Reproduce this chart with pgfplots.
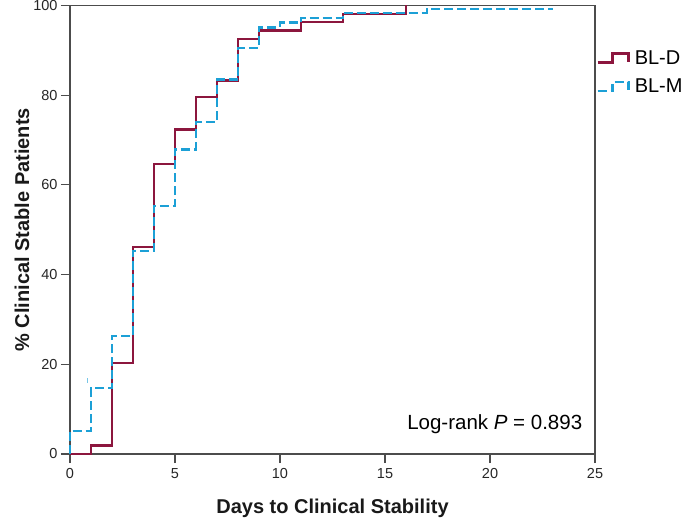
\documentclass[border=0pt]{standalone}
\usepackage{pgfplots}
\pgfplotsset{compat=1.18}
\usepackage{fontspec}
\setmainfont{Liberation Sans}
\definecolor{bld}{RGB}{140,22,62}
\definecolor{blm}{RGB}{28,160,214}
\begin{document}
\begin{tikzpicture}
\path[use as bounding box] (-70pt,-66pt) rectangle (615pt,454pt);
\begin{axis}[
  scale only axis,
  width=525pt, height=448.5pt,
  xmin=0, xmax=25, ymin=0, ymax=100,
  xtick={0,5,10,15,20,25},
  ytick={0,20,40,60,80,100},
  xtick pos=bottom, ytick pos=left,
  tick align=outside,
  major tick length=9pt,
  axis line style={black!70, line width=1.1pt},
  tick style={black!70, line width=1.1pt},
  /pgf/number format/assume math mode=true,
  ticklabel style={font=\fontsize{14.5}{17}\selectfont, text=black!85},
  xticklabel style={yshift=-2pt},
  xlabel={\textbf{Days to Clinical Stability}},
  ylabel={\textbf{\% Clinical Stable Patients}},
  label style={font=\fontsize{20}{24}\selectfont, text=black!90},
  xlabel style={at={(axis description cs:0.5,-0.1204)}, anchor=center},
  ylabel style={at={(axis description cs:-0.0914,0.5)}, anchor=center},
  legend image code/.code={\draw[#1] (0pt,-4.5pt) -- (15pt,-4.5pt) -- (15pt,4.5pt) -- (31pt,4.5pt) -- (31pt,-4pt);},
  legend style={at={(axis description cs:1.002,0.905)}, anchor=north west, draw=none, fill=none,
    font=\fontsize{20}{24}\selectfont, inner sep=0pt, row sep=9pt,
    nodes={inner sep=2pt}},
  legend cell align=left,
  clip=false,
]
\addplot[const plot, bld, line width=2.5pt] coordinates {
 (0,0) (1,1.9) (2,20.3) (3,46.2) (4,64.7) (5,72.3) (6,79.6) (7,83.3) (8,92.5) (9,94.4) (11,96.3) (13,98.1) (16,100)
};
\addlegendentry{\hspace{3pt}BL-D}
\addplot[const plot, blm, line width=2.2pt, dash pattern=on 9pt off 4pt] coordinates {
 (0,0) (0,5.2) (1,14.7) (2,26.3) (3,45.3) (4,55.3) (5,67.9) (6,74.0) (7,83.5) (8,90.5) (9,95.1) (10,96.2) (11,97.3) (13,98.4) (17,99.2) (23,99.2)
};
\addlegendentry{\hspace{3pt}BL-M}
\addplot[only marks, mark=|, mark size=2.5pt, blm!60, line width=0.7pt, forget plot] coordinates {(0.85,16.3)};
\node[anchor=east, font=\fontsize{20.5}{24}\selectfont, inner sep=0pt] at (axis cs:24.4,6.7) {Log-rank \textit{P} = 0.893};
\end{axis}
\end{tikzpicture}
\end{document}
